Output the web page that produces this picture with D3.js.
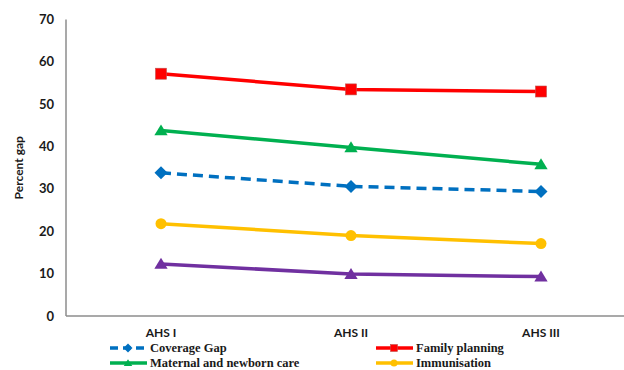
<!DOCTYPE html>
<html>
<head>
<meta charset="utf-8">
<script src="https://cdn.jsdelivr.net/npm/d3@7"></script>
<style>
  html, body { margin: 0; padding: 0; background: #fff; }
  svg { display: block; }
  .legend-text { font-family: "Liberation Serif", "DejaVu Serif", "Times New Roman", serif; font-weight: bold; font-size: 12.5px; }
</style>
</head>
<body>
<svg id="chart" width="624" height="370"></svg>
<script>
// Survey rounds on the x axis
const rounds = ["AHS I", "AHS II", "AHS III"];
const yTicks = [0, 10, 20, 30, 40, 50, 60, 70];

// Percent gap for each indicator, per round
const coverageGap = [33.8, 30.6, 29.4];
const familyPlanning = [57.2, 53.5, 53.0];
const maternalNewborn = [43.8, 39.8, 35.8];
const immunisation = [21.8, 19.0, 17.1];
const otherIndicator = [12.3, 9.9, 9.3];

const series = [
  { name: "Family planning", values: familyPlanning, color: "#ff0000", marker: "square", dashed: false },
  { name: "Maternal and newborn care", values: maternalNewborn, color: "#00b050", marker: "triangle", dashed: false },
  { name: "Coverage Gap", values: coverageGap, color: "#0070c0", marker: "diamond", dashed: true },
  { name: "Immunisation", values: immunisation, color: "#ffc000", marker: "circle", dashed: false },
  { name: "", values: otherIndicator, color: "#7030a0", marker: "triangle", dashed: false }
];

const svg = d3.select("#chart");
const plotLeft = 66, plotRight = 636, plotTop = 19.5, plotBottom = 316;

const x = d3.scalePoint().domain(rounds).range([plotLeft, plotRight]).padding(0.5);
const y = d3.scaleLinear().domain([0, 70]).range([plotBottom, plotTop]);

// Axes
svg.append("line").attr("x1", plotLeft).attr("x2", plotLeft).attr("y1", plotTop).attr("y2", plotBottom)
  .attr("stroke", "#8c8c8c").attr("stroke-width", 1.5);
svg.append("line").attr("x1", plotLeft).attr("x2", 624).attr("y1", plotBottom).attr("y2", plotBottom)
  .attr("stroke", "#8c8c8c").attr("stroke-width", 1.5);

svg.append("g").selectAll("text").data(yTicks).join("text")
  .attr("x", 54).attr("y", d => y(d)).attr("dy", "0.35em")
  .attr("text-anchor", "end")
  .attr("font-family", "Lato, 'Liberation Sans', sans-serif")
  .attr("font-weight", "bold").attr("font-size", 13).attr("fill", "#1a1a1a")
  .text(d => d);

svg.append("g").selectAll("text").data(rounds).join("text")
  .attr("x", d => x(d)).attr("y", 333).attr("dy", "0.35em")
  .attr("text-anchor", "middle")
  .attr("font-family", "Lato, 'Liberation Sans', sans-serif")
  .attr("font-weight", "bold").attr("font-size", 12).attr("fill", "#1a1a1a")
  .text(d => d);

svg.append("text")
  .attr("transform", `translate(19,${(plotTop + plotBottom) / 2}) rotate(-90)`)
  .attr("text-anchor", "middle").attr("dy", "0.35em")
  .attr("font-family", "Lato, 'Liberation Sans', sans-serif")
  .attr("font-weight", "bold").attr("font-size", 12).attr("fill", "#1a1a1a")
  .text("Percent gap");

function drawMarker(g, type, cx, cy, color, s) {
  if (type === "square") {
    g.append("rect").attr("x", cx - s / 2).attr("y", cy - s / 2).attr("width", s).attr("height", s)
      .attr("fill", color).attr("stroke", "#c0504d").attr("stroke-width", 0.6);
  } else if (type === "circle") {
    g.append("circle").attr("cx", cx).attr("cy", cy).attr("r", s / 2).attr("fill", color);
  } else if (type === "diamond") {
    const h = s / 2 + 1;
    g.append("path").attr("d", `M${cx},${cy - h}L${cx + h},${cy}L${cx},${cy + h}L${cx - h},${cy}Z`).attr("fill", color);
  } else if (type === "triangle") {
    const h = s * 0.55;
    g.append("path").attr("d", `M${cx},${cy - h}L${cx + h * 1.1},${cy + h * 0.8}L${cx - h * 1.1},${cy + h * 0.8}Z`).attr("fill", color);
  }
}

const line = d3.line().x((d, i) => x(rounds[i])).y(d => y(d));

series.forEach(s => {
  const g = svg.append("g");
  g.append("path").datum(s.values).attr("d", line)
    .attr("fill", "none").attr("stroke", s.color).attr("stroke-width", 3.5)
    .attr("stroke-dasharray", s.dashed ? "10,6" : null);
  s.values.forEach((v, i) => drawMarker(g, s.marker, x(rounds[i]), y(v), s.color, 11));
});

// Legend
const legendItems = [
  { s: series[2], lx: 110, ly: 348 },
  { s: series[0], lx: 376, ly: 348 },
  { s: series[1], lx: 110, ly: 363 },
  { s: series[3], lx: 376, ly: 363 }
];
legendItems.forEach(({ s, lx, ly }) => {
  const g = svg.append("g");
  g.append("line").attr("x1", lx).attr("x2", lx + 37).attr("y1", ly).attr("y2", ly)
    .attr("stroke", s.color).attr("stroke-width", 3.5)
    .attr("stroke-dasharray", s.dashed ? "8,5" : null);
  drawMarker(g, s.marker, lx + 18, ly, s.color, 7);
  g.append("text").attr("class", "legend-text")
    .attr("x", lx + 40).attr("y", ly).attr("dy", "0.33em")
    .attr("fill", "#1a1a1a")
    .text(s.name);
});
</script>
</body>
</html>
